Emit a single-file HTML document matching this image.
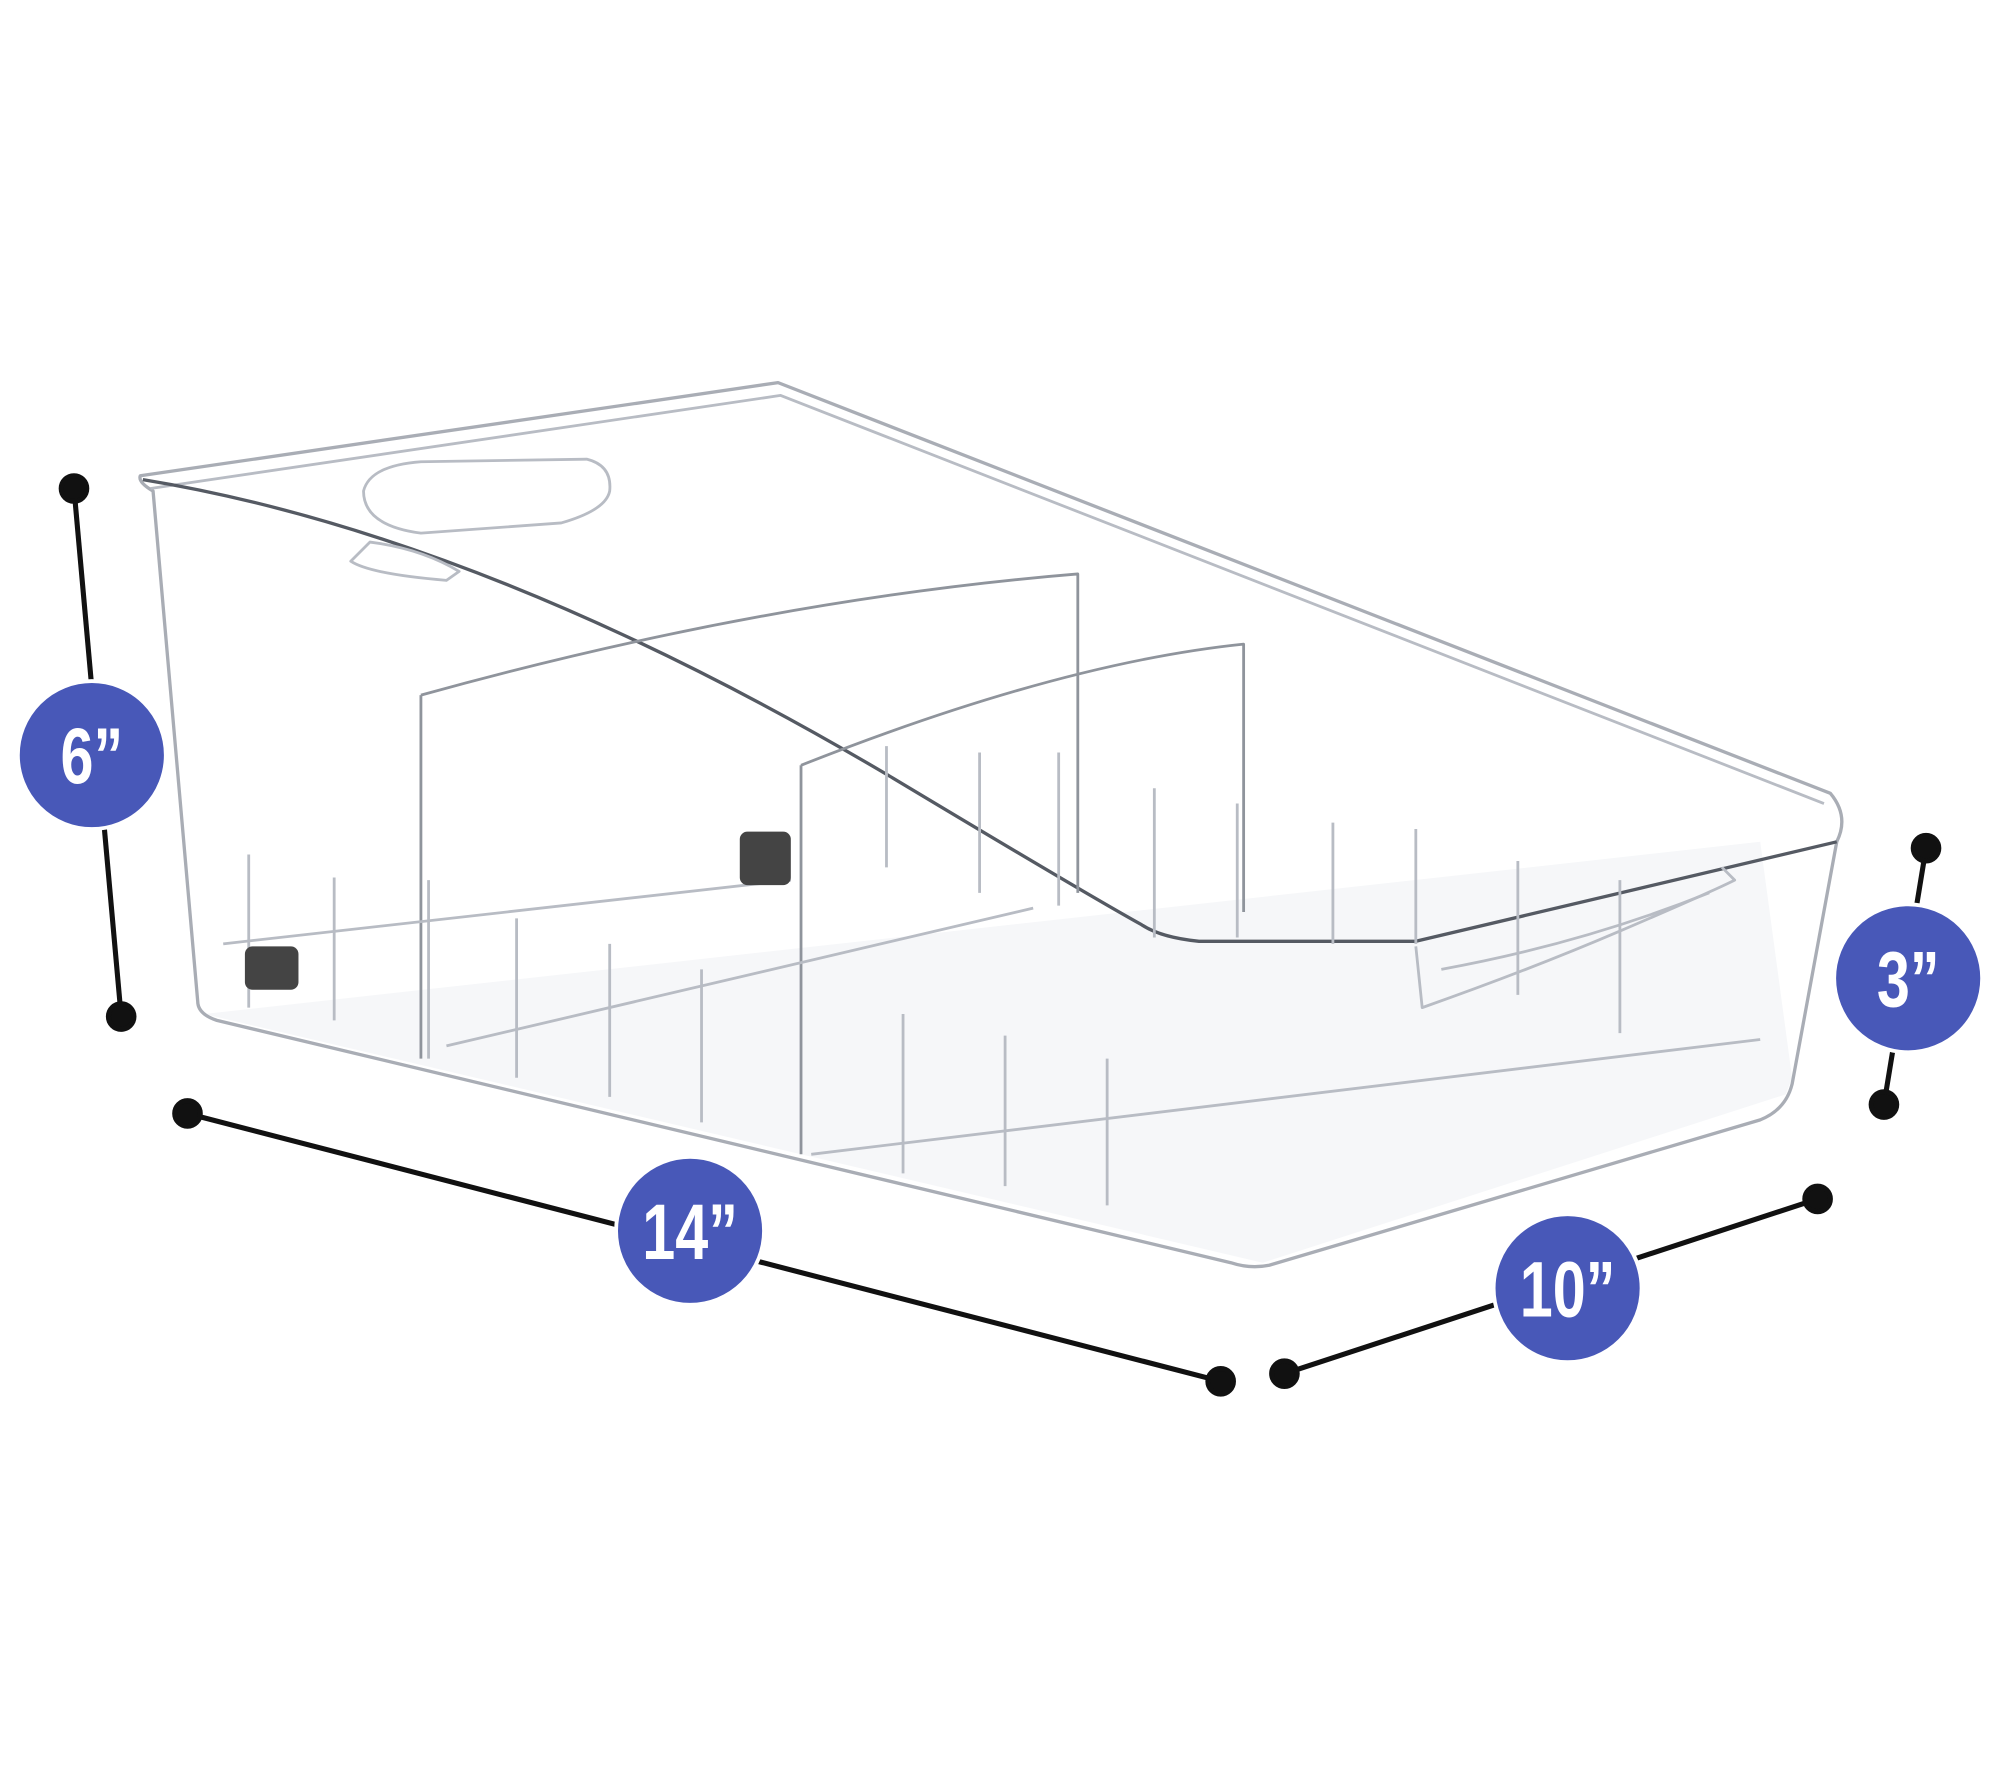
<!DOCTYPE html>
<html><head><meta charset="utf-8"><style>
html,body{margin:0;padding:0;background:#fff;width:2000px;height:1778px;overflow:hidden}
svg{display:block}
text{font-family:"Liberation Sans",sans-serif;font-weight:bold;fill:#fff}
</style></head><body>
<svg width="2000" height="1778" viewBox="0 0 1568 1394" preserveAspectRatio="none">
<g fill="none" stroke="#b8bcc4" stroke-width="2.2" stroke-linejoin="round">
<path d="M160 795 L990 990 L1400 858 L1405 845 L1380 660" fill="#f6f7f9" stroke="none"/>
<path d="M110 373 L610 300 L1435 622 Q1450 640 1440 660 L1405 850 Q1400 870 1380 878 L995 992 Q980 995 965 990 L170 800 Q155 795 155 785 L120 385 Q108 378 110 373 Z" stroke="#a9adb5" stroke-width="2.6"/>
<path d="M118 383 L612 310 L1430 630"/>
<path d="M112 376 Q380 420 700 610 Q850 700 895 725 Q910 735 940 738 L1110 738 L1440 660" stroke="#555a63" stroke-width="2.6"/>
<path d="M285 385 Q290 365 330 362 L460 360 Q480 365 478 385 Q475 400 440 410 L330 418 Q285 412 285 385 Z"/>
<path d="M275 440 Q290 450 350 455 L360 448 Q330 430 290 425 Z"/>
<path d="M1110 742 L1115 790 Q1200 760 1270 730 Q1340 700 1360 690 L1350 680"/>
<path d="M1130 760 Q1240 740 1340 700"/>
<path d="M330 545 L330 830 M330 545 Q600 470 845 450 L845 700 M628 600 Q830 520 975 505 L975 715 M628 600 L628 905" stroke="#8f949c"/>
<path d="M195 670 V790 M262 688 V800 M336 690 V830 M405 720 V845 M478 740 V860 M550 760 V880 M708 795 V920 M788 812 V930 M868 830 V945 M695 585 V680 M768 590 V700 M830 590 V710 M905 618 V735 M970 630 V735 M1045 645 V740 M1110 650 V740 M1190 675 V780 M1270 690 V810"/>
<path d="M175 740 L620 690 M350 820 L810 712 M636 905 L1380 815"/>
</g>
<g fill="#444"><rect x="192" y="742" width="42" height="34" rx="6"/><rect x="580" y="652" width="40" height="42" rx="6"/></g>
<g stroke="#111" stroke-width="4" fill="#111">
<line x1="58" y1="383" x2="95" y2="797"/><circle cx="58" cy="383" r="10"/><circle cx="95" cy="797" r="10"/>
<line x1="1510" y1="665" x2="1477" y2="866"/><circle cx="1510" cy="665" r="10"/><circle cx="1477" cy="866" r="10"/>
<line x1="147" y1="873" x2="957" y2="1083"/><circle cx="147" cy="873" r="10"/><circle cx="957" cy="1083" r="10"/>
<line x1="1007" y1="1077" x2="1425" y2="940"/><circle cx="1007" cy="1077" r="10"/><circle cx="1425" cy="940" r="10"/>
</g>
<g fill="#4858b8" stroke="#fff" stroke-width="3">
<circle cx="72" cy="592" r="58"/><circle cx="1496" cy="767" r="58"/><circle cx="541" cy="965" r="58"/><circle cx="1229" cy="1010" r="58"/>
</g>
<g font-size="62" text-anchor="middle">
<text transform="translate(72,614) scale(0.75,1)">6”</text>
<text transform="translate(1496,789) scale(0.75,1)">3”</text>
<text transform="translate(541,987) scale(0.75,1)">14”</text>
<text transform="translate(1229,1032) scale(0.75,1)">10”</text>
</g>
</svg>
</body></html>
